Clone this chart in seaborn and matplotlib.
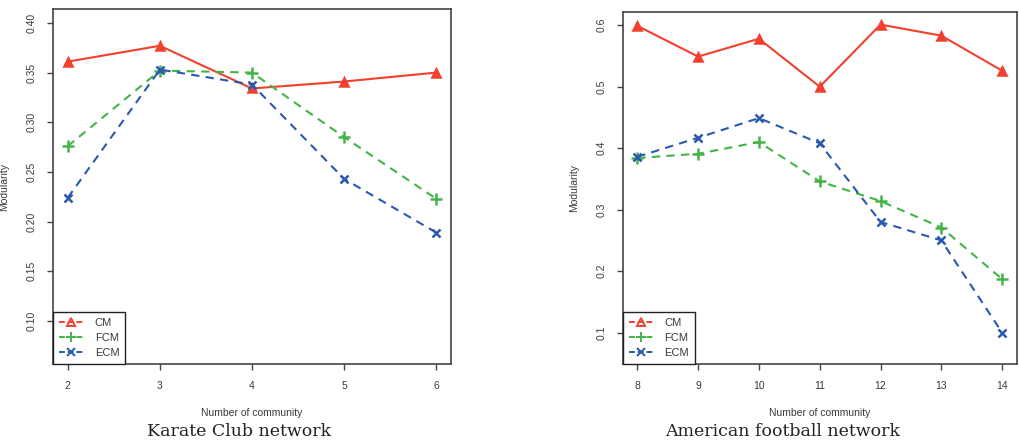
import pandas as pd
import seaborn as sns
import matplotlib.pyplot as plt
from matplotlib.lines import Line2D

# Karate Club network
karate_k = [2, 3, 4, 5, 6]
karate_cm = [0.361, 0.377, 0.334, 0.341, 0.350]
karate_fcm = [0.276, 0.352, 0.350, 0.285, 0.223]
karate_ecm = [0.224, 0.353, 0.338, 0.243, 0.189]

# American football network
football_k = [8, 9, 10, 11, 12, 13, 14]
football_cm = [0.599, 0.549, 0.578, 0.500, 0.601, 0.583, 0.526]
football_fcm = [0.384, 0.391, 0.410, 0.346, 0.314, 0.271, 0.187]
football_ecm = [0.386, 0.417, 0.449, 0.408, 0.280, 0.250, 0.100]

methods = ["CM", "FCM", "ECM"]
captions = ["Karate Club network", "American football network"]

colors = {"CM": "#f2402e", "FCM": "#44b448", "ECM": "#2a59ad"}
markers = {"CM": "^", "FCM": "+", "ECM": "x"}
msizes = {"CM": 6, "FCM": 8, "ECM": 6}
styles = {"CM": "-", "FCM": (0, (4, 3)), "ECM": (0, (4, 3))}

sns.set_theme(style="white")
plt.rcParams["font.family"] = ["Liberation Sans", "DejaVu Sans"]
text_col = "#3a3a3a"

fig = plt.figure(figsize=(10.19, 4.43), dpi=100)
ax1 = fig.add_axes([0.0520, 0.1783, 0.3906, 0.8014])
ax2 = fig.add_axes([0.6111, 0.1783, 0.3867, 0.7939])

panels = [
    (ax1, karate_k, [karate_cm, karate_fcm, karate_ecm],
     (1.84, 6.16), (0.0567, 0.414), [0.10, 0.15, 0.20, 0.25, 0.30, 0.35, 0.40], "{:.2f}"),
    (ax2, football_k, [football_cm, football_fcm, football_ecm],
     (7.76, 14.24), (0.049, 0.621), [0.1, 0.2, 0.3, 0.4, 0.5, 0.6], "{:.1f}"),
]

for ax, ks, series, xlim, ylim, yticks, fmt in panels:
    for name, vals in zip(methods, series):
        df = pd.DataFrame({"k": ks, "mod": vals})
        sns.lineplot(data=df, x="k", y="mod", ax=ax, color=colors[name],
                     marker=markers[name], markersize=msizes[name],
                     markeredgewidth=1.8, markeredgecolor=colors[name],
                     linestyle=styles[name], linewidth=1.5)
    ax.set_xlim(*xlim)
    ax.set_ylim(*ylim)
    ax.set_xticks(ks)
    ax.set_xticklabels([str(k) for k in ks])
    ax.set_yticks(yticks)
    ax.set_yticklabels([fmt.format(v) for v in yticks])
    ax.tick_params(axis="both", direction="out", length=4.5, width=1.0,
                   colors="#444444", labelcolor=text_col, labelsize=7.5,
                   bottom=True, left=True)
    ax.tick_params(axis="x", pad=8)
    ax.tick_params(axis="y", pad=7, labelrotation=90)
    for lab in ax.get_yticklabels():
        lab.set_va("center")
    for sp in ax.spines.values():
        sp.set_color("#444444")
        sp.set_linewidth(1.2)
    ax.set_xlabel("Number of community", fontsize=7.5, color=text_col)
    ax.set_ylabel("Modularity", fontsize=7.5, color=text_col)
    ax.xaxis.set_label_coords(0.5, -0.125)
    ax.yaxis.set_label_coords(-0.11, 0.5)

    handles = [Line2D([], [], color=colors[m], marker=markers[m],
                      markersize=msizes[m] - 0.5, markeredgewidth=1.4,
                      markerfacecolor="none" if m == "CM" else colors[m],
                      linestyle=(0, (3, 1.5)), linewidth=1.4) for m in methods]
    leg = ax.legend(handles, methods, loc="lower left", borderaxespad=0,
                    fontsize=8, handlelength=2.2, handletextpad=1.0,
                    labelspacing=0.45, borderpad=0.55, fancybox=False,
                    frameon=True, framealpha=1)
    leg.get_frame().set_edgecolor("#222222")
    leg.get_frame().set_linewidth(1.0)
    for t in leg.get_texts():
        t.set_color(text_col)

# panel captions under each plot
fig.text(0.235, 0.006, captions[0], ha="center", va="bottom", fontsize=12.5,
         family="DejaVu Serif", color="#222222")
fig.text(0.768, 0.006, captions[1], ha="center", va="bottom", fontsize=12.5,
         family="DejaVu Serif", color="#222222")

fig.savefig("out.png", dpi=100)
